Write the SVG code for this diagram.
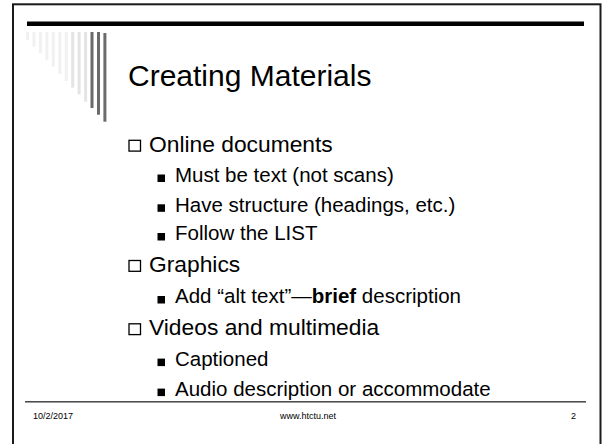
<svg xmlns="http://www.w3.org/2000/svg" width="602" height="444" viewBox="0 0 602 444">
<style>
text{font-family:"Liberation Sans",Arial,sans-serif;fill:#000}
.title{font-size:30px}
.l1{font-size:22.8px}
.l2{font-size:20.5px}
.foot{font-size:9px}
.hb{fill:#fff;stroke:#000;stroke-width:1.3}
.fb{fill:#000}
.s0{fill:#f1f1f1}
.s1{fill:#e4e4e4}
.s2{fill:#6b6b6b}
</style>
<rect x="0" y="0" width="602" height="444" fill="#fff"/>
<rect id="frame" x="13" y="4.3" width="587.5" height="460" fill="none" stroke="#1a1a1a" stroke-width="2"/>
<rect id="topbar" x="27" y="21.5" width="557" height="4.5" fill="#000"/>
<g id="stripes">
<rect class="s0" x="26" y="32" width="3" height="8"/>
<rect class="s0" x="32.5" y="32" width="3" height="14.7"/>
<rect class="s0" x="38.9" y="32" width="3" height="21.3"/>
<rect class="s0" x="45.4" y="32" width="3" height="28"/>
<rect class="s0" x="51.8" y="32" width="3" height="34.7"/>
<rect class="s0" x="58.3" y="32" width="3" height="42"/>
<rect class="s0" x="64.7" y="32" width="3" height="49"/>
<rect class="s1" x="71.2" y="32" width="3" height="55.7"/>
<rect class="s1" x="77.6" y="32" width="3" height="62.3"/>
<rect class="s1" x="84.1" y="32" width="3" height="69.7"/>
<rect class="s2" x="90.5" y="32" width="3" height="76"/>
<rect class="s2" x="97" y="32" width="3" height="82.7"/>
<rect class="s2" x="103.4" y="33" width="3" height="88.7"/>
</g>
<g id="title"><text class="title" x="128" y="86">Creating Materials</text></g>
<g id="online">
<rect class="hb" x="129" y="140.3" width="11.5" height="10.8"/>
<text class="l1" x="149" y="151.5">Online documents</text>
</g>
<g id="musttext">
<rect class="fb" x="157.5" y="174.5" width="7.5" height="7.5"/>
<text class="l2" x="175" y="181.7">Must be text (not scans)</text>
</g>
<g id="structure">
<rect class="fb" x="157.5" y="204.3" width="7.5" height="7.5"/>
<text class="l2" x="175" y="211.5">Have structure (headings, etc.)</text>
</g>
<g id="list">
<rect class="fb" x="157.5" y="233" width="7.5" height="7.5"/>
<text class="l2" x="175" y="240.3">Follow the LIST</text>
</g>
<g id="graphics">
<rect class="hb" x="129" y="260.5" width="11.5" height="10.8"/>
<text class="l1" x="149" y="271.7">Graphics</text>
</g>
<g id="alttext">
<rect class="fb" x="157.5" y="296" width="7.5" height="7.5"/>
<text class="l2" x="175" y="303.3">Add “alt text”—<tspan font-weight="bold">brief</tspan> description</text>
</g>
<g id="videos">
<rect class="hb" x="129" y="323.8" width="11.5" height="10.8"/>
<text class="l1" x="149" y="335">Videos and multimedia</text>
</g>
<g id="captioned">
<rect class="fb" x="157.5" y="358.6" width="7.5" height="7.5"/>
<text class="l2" x="175" y="365.9">Captioned</text>
</g>
<g id="audio">
<rect class="fb" x="157.5" y="388.6" width="7.5" height="7.5"/>
<text class="l2" x="175" y="395.9">Audio description or accommodate</text>
</g>
<rect id="footline" x="25" y="401.3" width="561" height="1.1" fill="#000"/>
<g id="footer">
<text class="foot" x="33" y="419.3">10/2/2017</text>
<text class="foot" x="280" y="419.3">www.htctu.net</text>
<text class="foot" x="571" y="419.3">2</text>
</g>
</svg>
